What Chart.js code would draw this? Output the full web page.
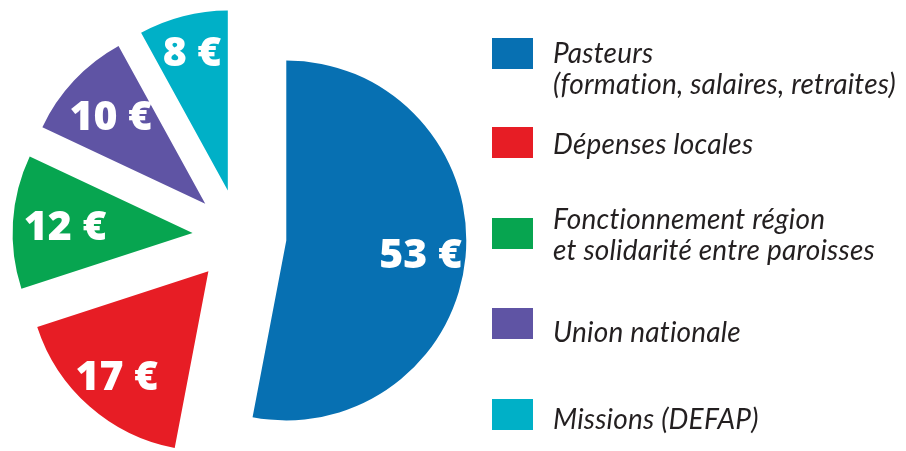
<!DOCTYPE html>
<html>
<head>
<meta charset="utf-8">
<script src="https://cdn.jsdelivr.net/npm/chart.js@4.4.1/dist/chart.umd.min.js"></script>
<style>
  body { margin: 0; background: #fff; }
  #wrap { position: relative; width: 906px; height: 451px; overflow: hidden; }
  #legend { position: absolute; left: 0; top: 0; }
  .swatch { position: absolute; left: 492px; width: 41px; height: 31px; }
  .label { position: absolute; left: 553px; font: italic 28px "Lato"; letter-spacing: 0.2px; line-height: 31px; color: #231f20; white-space: nowrap; }
</style>
</head>
<body>
<div id="wrap">
  <canvas id="budget-pie"></canvas>
  <div id="legend"></div>
</div>
<script>
// Data
const categories = [
    ['Pasteurs', '(formation, salaires, retraites)'],
    ['Dépenses locales'],
    ['Fonctionnement région', 'et solidarité entre paroisses'],
    ['Union nationale'],
    ['Missions (DEFAP)']
];
const amounts = [53, 17, 12, 10, 8];
const valueLabels = ['53 €', '17 €', '12 €', '10 €', '8 €'];

const colors = ['#0770b2', '#e71d25', '#07a550', '#5f54a4', '#00b0c7'];

// where each amount sits along its slice (share of the radius)
const labelDepth = [0.75, 0.77, 0.71, 0.72, 0.80];

// legend layout (top of swatch, top of first text line)
const swatchTops = [38, 127, 218, 308, 399];
const textTops = [37, 128, 203, 316, 403];

const explodeDistance = 47;

// push every slice outward along its middle angle
const explode = {
    id: 'explode',
    afterDatasetUpdate(chart, args) {
        args.meta.data.forEach(arc => {
            const mid = (arc.startAngle + arc.endAngle) / 2;
            arc.x += Math.cos(mid) * explodeDistance;
            arc.y += Math.sin(mid) * explodeDistance;
        });
    }
};

// white amount labels inside the slices
const sliceLabels = {
    id: 'sliceLabels',
    afterDatasetsDraw(chart) {
        const ctx = chart.ctx;
        const meta = chart.getDatasetMeta(0);
        const size = 41;
        ctx.save();
        ctx.font = '800 ' + size + 'px "Open Sans"';
        ctx.fillStyle = '#ffffff';
        ctx.textAlign = 'center';
        ctx.textBaseline = 'alphabetic';
        meta.data.forEach((arc, i) => {
            const mid = (arc.startAngle + arc.endAngle) / 2;
            const r = arc.outerRadius * labelDepth[i];
            const cx = arc.x + Math.cos(mid) * r;
            const cy = arc.y + Math.sin(mid) * r;
            ctx.fillText(valueLabels[i], cx, cy + size * 0.357);
        });
        ctx.restore();
    }
};

const pieCanvas = document.getElementById('budget-pie');
new Chart(pieCanvas, {
    type: 'pie',
    data: {
        labels: categories.map(c => c.join(' ')),
        datasets: [{
            data: amounts,
            backgroundColor: colors,
            borderWidth: 0
        }]
    },
    options: {
        responsive: true,
        maintainAspectRatio: false,
        animation: false,
        radius: 180,
        layout: {
            padding: { left: 0, right: 427, top: 21, bottom: 0 }
        },
        plugins: {
            legend: { display: false },
            tooltip: { enabled: false }
        }
    },
    plugins: [explode, sliceLabels]
});

// html legend
const legend = document.getElementById('legend');
categories.forEach((lines, i) => {
    const sw = document.createElement('div');
    sw.className = 'swatch';
    sw.style.top = swatchTops[i] + 'px';
    sw.style.background = colors[i];
    legend.appendChild(sw);

    const txt = document.createElement('div');
    txt.className = 'label';
    txt.style.top = textTops[i] + 'px';
    txt.innerHTML = lines.join('<br>');
    legend.appendChild(txt);
});
</script>
</body>
</html>
